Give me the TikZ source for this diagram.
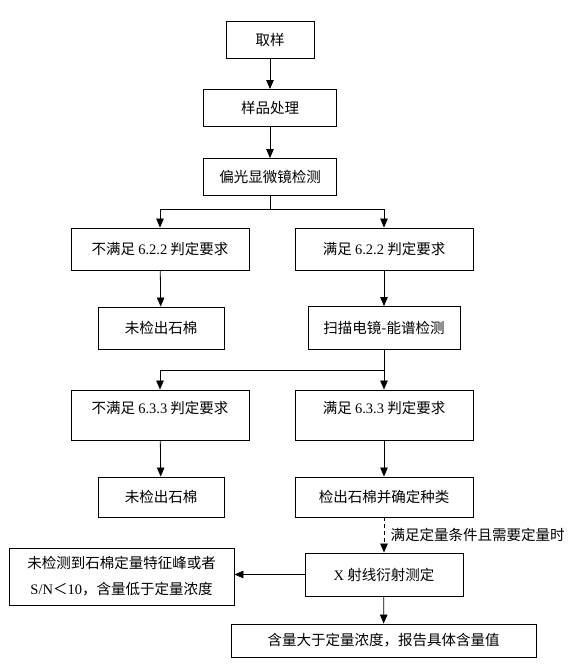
\documentclass[tikz,border=0pt]{standalone}
\usepackage{fontspec}
\setmainfont{Liberation Serif}
\newfontfamily\cjk{Noto Sans CJK SC}
\usetikzlibrary{arrows.meta}
\newcommand{\Lat}[1]{{\rmfamily #1}}
\tikzset{%
    Fbox/.style={draw, line width=0.9pt, inner sep=0pt, align=center, minimum height=#1,
        font=\cjk\fontsize{14.5}{26}\selectfont}, Fbox/.default={42pt},
    Fline/.style={line width=0.8pt},
    Farrow/.style={line width=0.8pt, -{Triangle[length=9pt,width=7.5pt]}}
}
\begin{document}
\begin{tikzpicture}[x=1pt, y=-1pt]
        \useasboundingbox (0,0) rectangle (584,672);
        \path
            (270,40) node [Fbox=37pt, minimum width=88pt] (Nqy) {取样}
            (270,108) node [Fbox=37pt, minimum width=133pt] (Nclr) {样品处理}
            (270,177) node [Fbox=37pt, minimum width=133pt] (Npg) {偏光显微镜检测}
            (160,249) node [Fbox, minimum width=178pt] (Nnoa) {不满足 \Lat{6.2.2} 判定要求}
            (384,249) node [Fbox, minimum width=178pt] (Nyesa) {满足 \Lat{6.2.2} 判定要求}
            (161,328) node [Fbox, minimum width=126pt] (Nnonea) {未检出石棉}
            (384,328) node [Fbox=43pt, minimum width=152pt] (Nsem) {扫描电镜-能谱检测}
            (160,415) node [Fbox=50pt, minimum width=178pt, text height=11pt, text depth=14pt] (Nnob) {不满足 \Lat{6.3.3} 判定要求}
            (384,415) node [Fbox=50pt, minimum width=178pt, text height=11pt, text depth=14pt] (Nyesb) {满足 \Lat{6.3.3} 判定要求}
            (161,497) node [Fbox=40pt, minimum width=126pt] (Nnoneb) {未检出石棉}
            (384,497) node [Fbox=40pt, minimum width=178pt] (Nfind) {检出石棉并确定种类}
            (384,574.5) node [Fbox=43pt, minimum width=158pt] (Nxrd) {\Lat{X} 射线衍射测定}
            (121.5,576.5) node [Fbox=57pt, minimum width=225pt] (Nlow) {未检测到石棉定量特征峰或者\\\Lat{S/N}＜\Lat{10}，含量低于定量浓度}
            (383.5,640.5) node [Fbox=33pt, minimum width=305pt] (Nval) {含量大于定量浓度，报告具体含量值};
        \path
            (270,209) coordinate (Bone)
            (384,370) coordinate (Btwo);
        \draw[Farrow] (Nqy) -- (Nclr);
        \draw[Farrow] (Nclr) -- (Npg);
        \draw[Fline] (Npg) -- (Bone);
        \draw[Farrow] (Bone) -| (Nnoa);
        \draw[Farrow] (Bone) -| (Nyesa);
        \draw[Farrow] (Nnoa) -- (Nnonea);
        \draw[Farrow] (Nyesa) -- (Nsem);
        \draw[Farrow] (Nsem) -- (Nyesb);
        \draw[Farrow] (Btwo) -| (Nnob);
        \draw[Farrow] (Nnob) -- (Nnoneb);
        \draw[Farrow] (Nyesb) -- (Nfind);
        \draw[Farrow, dash pattern=on 4pt off 3pt] (Nfind) -- node [right=3pt, font=\cjk\fontsize{14.5}{18}\selectfont] (Nqcond) {满足定量条件且需要定量时} (Nxrd);
        \draw[Farrow] (Nxrd) -- (Nxrd -| Nlow.east);
        \draw[Farrow] (Nxrd) -- (Nval);
    \end{tikzpicture}
\end{document}
